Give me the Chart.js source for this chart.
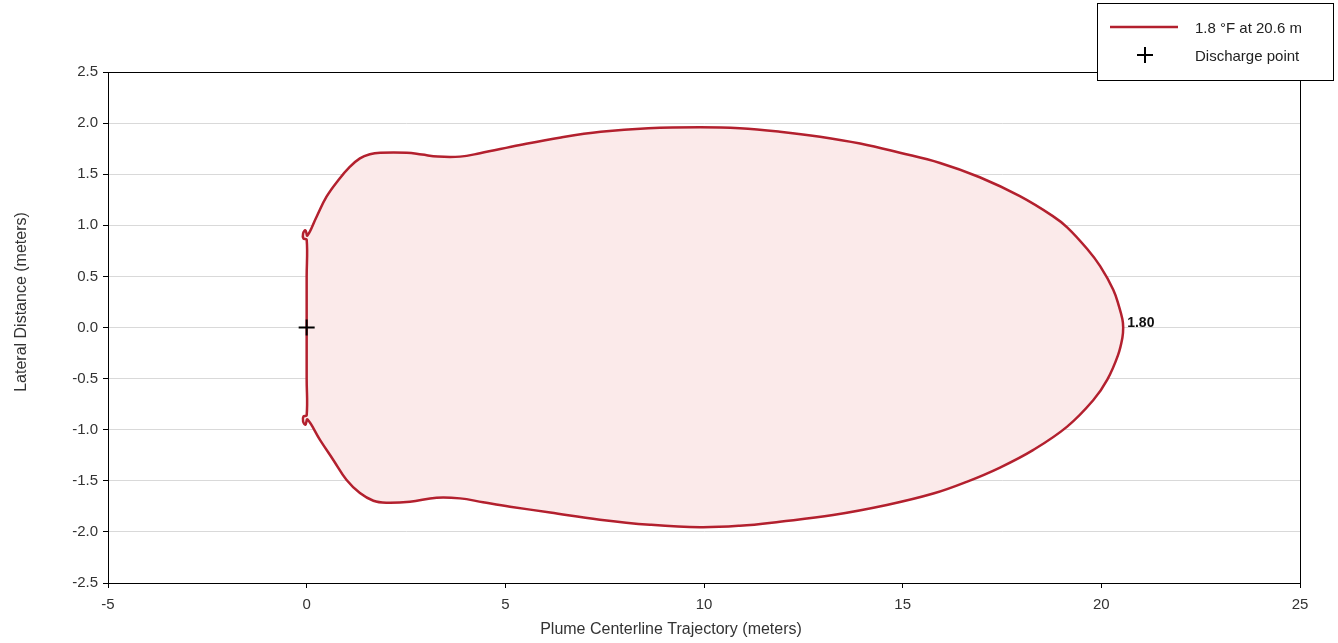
<!DOCTYPE html>
<html>
<head>
<meta charset="utf-8">
<title>Plume contour</title>
<script src="https://cdn.jsdelivr.net/npm/chart.js@4.4.1/dist/chart.umd.min.js"></script>
<style>
  body { margin: 0; background: #fff; }
  #wrap { width: 1338px; height: 643px; position: relative; }
</style>
</head>
<body>
<div id="wrap"><canvas id="plumeChart"></canvas></div>
<script>
// contour of the 1.8 °F plume, traced around from the discharge point (meters)
const contourX = [0, 0, 0, -0.08, -0.09, -0.03, 0.02, 0.25, 0.5, 0.8, 1.09, 1.34, 1.59, 1.85, 2.52, 2.9, 3.3, 3.86, 4.36, 5.37, 6.4, 7.4, 8.6, 9.9, 10.9, 11.91, 12.92, 13.93, 14.93, 15.94, 16.94, 17.95, 18.78, 19.14, 19.64, 19.97, 20.3, 20.45, 20.53, 20.55, 20.53, 20.42, 20.15, 19.8, 19.14, 18.28, 17.45, 16.61, 15.77, 14.6, 13.25, 11.91, 10.9, 9.9, 8.64, 7.38, 6.13, 5.12, 4.44, 3.86, 3.27, 2.6, 2.01, 1.68, 1.34, 1.0, 0.67, 0.335, 0.02, -0.03, -0.09, -0.08, 0, 0, 0];
const contourY = [0, 0.5, 0.86, 0.87, 0.92, 0.95, 0.9, 1.084, 1.28, 1.443, 1.573, 1.655, 1.695, 1.71, 1.71, 1.692, 1.672, 1.672, 1.705, 1.786, 1.86, 1.915, 1.95, 1.96, 1.95, 1.916, 1.867, 1.80, 1.71, 1.61, 1.47, 1.285, 1.09, 0.98, 0.77, 0.6, 0.37, 0.2, 0.08, 0, -0.1, -0.27, -0.51, -0.71, -0.97, -1.2, -1.37, -1.51, -1.625, -1.737, -1.835, -1.9, -1.94, -1.955, -1.93, -1.88, -1.81, -1.753, -1.71, -1.672, -1.665, -1.704, -1.714, -1.695, -1.62, -1.49, -1.296, -1.1, -0.9, -0.95, -0.92, -0.87, -0.86, -0.5, 0];

const dischargeX = [0];
const dischargeY = [0];

const contourLabel = '1.8 °F at 20.6 m';
const dischargeLabel = 'Discharge point';
const edgeValue = '1.80';
const edgeX = 20.55;

const xTitle = 'Plume Centerline Trajectory (meters)';
const yTitle = 'Lateral Distance (meters)';

const lineColor = '#b3202e';
const fillColor = '#fbeaea';

const contour = contourX.map((x, i) => ({ x: x, y: contourY[i] }));
const discharge = dischargeX.map((x, i) => ({ x: x, y: dischargeY[i] }));

// frame, axis titles, edge label and the boxed legend
const extras = {
  id: 'extras',
  afterDatasetsDraw(chart) {
    const ctx = chart.ctx;
    const a = chart.chartArea;
    const xs = chart.scales.x, ys = chart.scales.y;
    ctx.save();

    ctx.strokeStyle = '#000';
    ctx.lineWidth = 1;
    ctx.strokeRect(a.left + 0.5, a.top + 0.5, a.right - a.left, a.bottom - a.top);

    ctx.fillStyle = '#111';
    ctx.font = 'bold 14px "Liberation Sans", Arial, sans-serif';
    ctx.textAlign = 'left';
    ctx.textBaseline = 'middle';
    ctx.fillText(edgeValue, xs.getPixelForValue(edgeX) + 4, ys.getPixelForValue(0) - 4);

    ctx.fillStyle = '#333';
    ctx.font = '16px "Liberation Sans", Arial, sans-serif';
    ctx.textAlign = 'center';
    ctx.fillText(xTitle, 671, 630);
    ctx.save();
    ctx.translate(22, 302);
    ctx.rotate(-Math.PI / 2);
    ctx.fillText(yTitle, 0, 0);
    ctx.restore();

    // legend box
    const lx = 1097, ly = 3, lw = 236, lh = 77;
    ctx.fillStyle = '#fff';
    ctx.fillRect(lx, ly, lw, lh);
    ctx.strokeStyle = '#000';
    ctx.strokeRect(lx + 0.5, ly + 0.5, lw, lh);

    const ds = chart.data.datasets;
    ctx.strokeStyle = ds[0].borderColor;
    ctx.lineWidth = 2.5;
    ctx.beginPath();
    ctx.moveTo(1110, 27);
    ctx.lineTo(1178, 27);
    ctx.stroke();

    ctx.strokeStyle = '#000';
    ctx.lineWidth = 2;
    ctx.beginPath();
    ctx.moveTo(1137, 55); ctx.lineTo(1153, 55);
    ctx.moveTo(1145, 47); ctx.lineTo(1145, 63);
    ctx.stroke();

    ctx.fillStyle = '#222';
    ctx.font = '15px "Liberation Sans", Arial, sans-serif';
    ctx.textAlign = 'left';
    ctx.fillText(ds[0].label, 1195, 29);
    ctx.fillText(ds[1].label, 1195, 57);
    ctx.restore();
  }
};

new Chart(document.getElementById('plumeChart'), {
  type: 'scatter',
  data: {
    datasets: [{
      label: contourLabel,
      data: contour,
      showLine: true,
      borderColor: lineColor,
      backgroundColor: fillColor,
      borderWidth: 2.5,
      pointRadius: 0,
      tension: 0.4,
      fill: 'shape',
      order: 2
    }, {
      label: dischargeLabel,
      data: discharge,
      pointStyle: 'cross',
      pointRadius: 8,
      borderColor: '#000',
      borderWidth: 2,
      order: 1
    }]
  },
  options: {
    responsive: true,
    maintainAspectRatio: false,
    animation: false,
    layout: { padding: { left: 0, top: 72, right: 38, bottom: 0 } },
    plugins: {
      legend: { display: false },
      tooltip: { enabled: false }
    },
    scales: {
      x: {
        type: 'linear',
        min: -5,
        max: 25,
        afterFit(scale) { scale.height = 60; },
        ticks: {
          stepSize: 5,
          color: '#333',
          padding: 8,
          font: { size: 15, family: '"Liberation Sans", Arial, sans-serif' }
        },
        grid: { drawOnChartArea: false, drawTicks: true, tickLength: 5, tickColor: '#000' },
        border: { color: '#000', width: 1 }
      },
      y: {
        type: 'linear',
        min: -2.5,
        max: 2.5,
        afterFit(scale) { scale.width = 108; },
        ticks: {
          stepSize: 0.5,
          color: '#333',
          padding: 5,
          font: { size: 15, family: '"Liberation Sans", Arial, sans-serif' },
          callback: v => v.toFixed(1)
        },
        grid: { color: '#d9d9d9', tickLength: 5, tickColor: '#000' },
        border: { color: '#000', width: 1 }
      }
    }
  },
  plugins: [extras]
});
</script>
</body>
</html>
